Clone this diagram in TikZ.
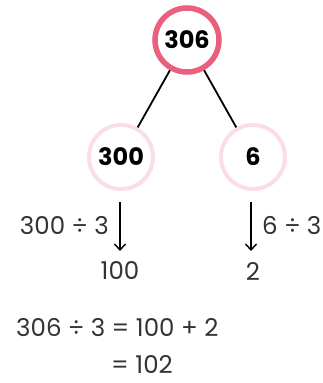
\documentclass[tikz,border=0pt]{standalone}
\usepackage{fontspec}
\setmainfont{Poppins}
\usetikzlibrary{arrows.meta}
\definecolor{txt}{HTML}{333333}
\definecolor{strongpink}{HTML}{EA5F7E}
\definecolor{softpink}{HTML}{FBDDE8}
\tikzset{
  topcircle/.style={circle, draw=strongpink, line width=5.5pt, minimum size=64pt, inner sep=0pt, font=\fontsize{24}{26}\selectfont\bfseries, text=black},
  partcircle/.style={circle, draw=softpink, line width=4pt, minimum size=64pt, inner sep=0pt, font=\fontsize{24}{26}\selectfont\bfseries, text=black},
  lbl/.style={font=\fontsize{24.5}{27}\selectfont, text=txt, inner sep=0pt},
  link/.style={line width=1.8pt, black},
  down/.style={line width=1.4pt, black, -{Straight Barb[length=6pt, width=11pt]}}
}
\begin{document}
\begin{tikzpicture}[x=1pt, y=-1pt]
\useasboundingbox (0,0) rectangle (322,383);
\node[topcircle] (t) at (187,40) {306};
\node[partcircle] (a) at (121,157) {300};
\node[partcircle] (b) at (253,157) {6};
\draw[link] (t) -- (a);
\draw[link] (t) -- (b);
\coordinate (a1) at (120,202);
\coordinate (a2) at (120,251);
\coordinate (b1) at (251,202);
\coordinate (b2) at (251,251);
\draw[down] (a1) -- (a2);
\draw[down] (b1) -- (b2);
\node[lbl, anchor=east] (la) at (109,226) {300 ÷ 3};
\node[lbl, anchor=west] (lb) at (262,226) {6 ÷ 3};
\node[lbl] (ra) at (120,271) {100};
\node[lbl] (rb) at (253,271) {2};
\node[lbl, anchor=west] (e1) at (16,328) {306 ÷ 3 = 100 + 2};
\node[lbl, anchor=west] (e2) at (111,364) {= 102};
\end{tikzpicture}
\end{document}
